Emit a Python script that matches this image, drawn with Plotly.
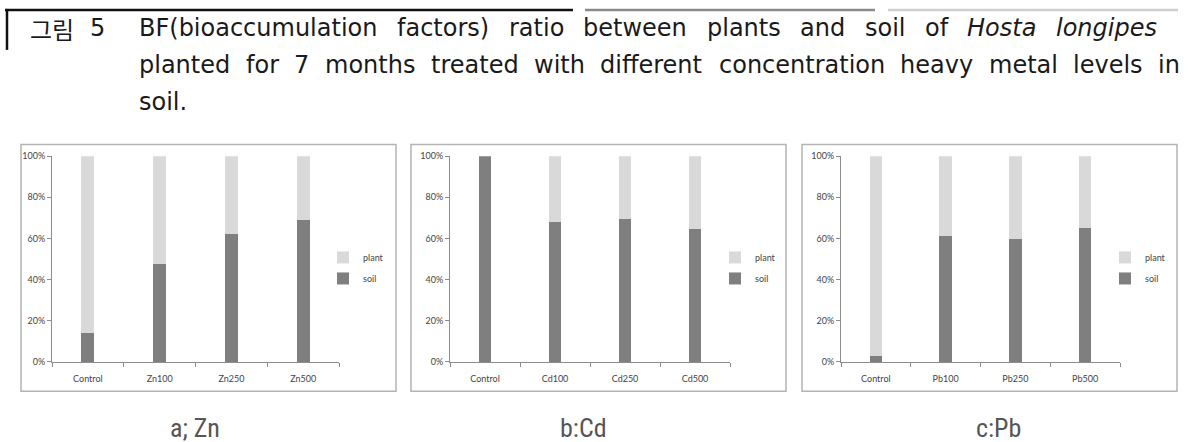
import plotly.graph_objects as go

W, H = 1188, 442

# ---------------- data ----------------
categories_zn = ["Control", "Zn100", "Zn250", "Zn500"]
categories_cd = ["Control", "Cd100", "Cd250", "Cd500"]
categories_pb = ["Control", "Pb100", "Pb250", "Pb500"]

soil_zn = [0.14, 0.478, 0.62, 0.688]
plant_zn = [0.86, 0.522, 0.38, 0.312]
soil_cd = [1.0, 0.681, 0.696, 0.645]
plant_cd = [0.0, 0.319, 0.304, 0.355]
soil_pb = [0.027, 0.614, 0.596, 0.653]
plant_pb = [0.973, 0.386, 0.404, 0.347]

series_names = ["soil", "plant"]
panel_captions = ["a; Zn", "b:Cd", "c:Pb"]
y_ticks = [0, 0.2, 0.4, 0.6, 0.8, 1.0]

title_line1 = "BF(bioaccumulation factors) ratio between plants and soil of Hosta longipes"
title_line2 = "planted for 7 months treated with different concentration heavy metal levels in"
title_line3 = "soil."
italic_words = ["Hosta", "longipes"]

# ---------------- helpers ----------------
def px(x):
    return x / W

def py(y):
    return 1 - y / H

# DejaVu Sans advance widths (em) for justified title layout
DV = {
    'a': .613, 'b': .635, 'c': .550, 'd': .635, 'e': .615, 'f': .352, 'g': .635, 'h': .634,
    'i': .278, 'l': .278, 'm': .974, 'n': .634, 'o': .612, 'p': .635, 'r': .411, 's': .521,
    't': .392, 'u': .634, 'v': .592, 'w': .818, 'y': .592, 'B': .686, 'F': .575, 'H': .752,
    '(': .390, ')': .390, '.': .318, '7': .636, '5': .636,
}

def word_w(w, size):
    return sum(DV.get(ch, .6) for ch in w) * size

def justify(line, x0, x1, size):
    words = line.split(" ")
    total = sum(word_w(w, size) for w in words)
    gap = (x1 - x0 - total) / max(len(words) - 1, 1)
    out, x = [], x0
    for w in words:
        out.append((w, x))
        x += word_w(w, size) + gap
    return out

SOIL_COLOR = "#7f7f7f"
PLANT_COLOR = "#d9d9d9"
AXIS_COLOR = "#8c8c8c"
TICK_FONT = dict(family="Lato, Liberation Sans, sans-serif", size=9, color="#444444")

panels = [
    dict(cats=categories_zn, soil=soil_zn, plant=plant_zn, x0=52, x1=339, box=(21, 396), leg=323),
    dict(cats=categories_cd, soil=soil_cd, plant=plant_cd, x0=450, x1=730, box=(411, 786), leg=715),
    dict(cats=categories_pb, soil=soil_pb, plant=plant_pb, x0=841, x1=1120, box=(802, 1177), leg=1105),
]
PLOT_TOP, PLOT_BOTTOM = 154, 365
BOX_TOP, BOX_BOTTOM = 142, 395

fig = go.Figure()
layout = dict(
    width=W, height=H,
    margin=dict(l=0, r=0, t=0, b=0),
    paper_bgcolor="white", plot_bgcolor="white",
    barmode="stack",
    showlegend=True,
)

shapes = []
annotations = []

for i, p in enumerate(panels):
    n = "" if i == 0 else str(i + 1)
    xa, ya = "x" + n, "y" + n
    lg = "legend" + n
    fig.add_trace(go.Bar(
        x=p["cats"], y=p["soil"], name=series_names[0], marker_color=SOIL_COLOR,
        marker_line_width=0, width=0.18, xaxis=xa, yaxis=ya, legend=lg,
        legendrank=2, legendgroup="soil" + n,
    ))
    fig.add_trace(go.Bar(
        x=p["cats"], y=p["plant"], name=series_names[1], marker_color=PLANT_COLOR,
        marker_line_width=0, width=0.18, xaxis=xa, yaxis=ya, legend=lg,
        legendrank=1, legendgroup="plant" + n,
    ))
    layout["xaxis" + n] = dict(
        domain=[px(p["x0"]), px(p["x1"])], anchor=ya,
        type="category", showline=True, linecolor=AXIS_COLOR, linewidth=1,
        ticks="outside", tickson="boundaries", ticklen=4, tickcolor=AXIS_COLOR,
        showgrid=False, zeroline=False, tickfont=TICK_FONT, ticklabelstandoff=8,
    )
    layout["yaxis" + n] = dict(
        domain=[py(PLOT_BOTTOM), py(PLOT_TOP)], anchor=xa,
        range=[0, 1], tickvals=y_ticks, tickformat=".0%",
        showline=True, linecolor=AXIS_COLOR, linewidth=1,
        ticks="outside", ticklen=4, tickcolor=AXIS_COLOR,
        showgrid=False, zeroline=False, tickfont=TICK_FONT,
    )
    layout[lg] = dict(
        x=px(p["leg"]), y=py(243), xanchor="left", yanchor="top",
        bgcolor="rgba(0,0,0,0)",
        font=dict(family="Lato, Liberation Sans, sans-serif", size=9, color="#444444"),
        tracegroupgap=2, itemwidth=30,
    )
    bx0, bx1 = p["box"]
    shapes.append(dict(type="rect", xref="paper", yref="paper",
                       x0=px(bx0), x1=px(bx1), y0=py(BOX_BOTTOM), y1=py(BOX_TOP),
                       line=dict(color="#b4b4b4", width=1.5), layer="below"))
    annotations.append(dict(
        text=panel_captions[i], xref="paper", yref="paper",
        x=px([195, 583, 998][i]), y=py(433), xanchor="center", yanchor="middle",
        showarrow=False,
        font=dict(family="Liberation Sans Narrow, Roboto Condensed, Arial Narrow, sans-serif",
                  size=26, color="#555555"),
    ))

# ---------------- title block ----------------
shapes += [
    dict(type="line", xref="paper", yref="paper", x0=px(5), x1=px(573), y0=py(4), y1=py(4),
         line=dict(color="#111111", width=2.5)),
    dict(type="line", xref="paper", yref="paper", x0=px(585), x1=px(875), y0=py(4), y1=py(4),
         line=dict(color="#8a8a8a", width=2.5)),
    dict(type="line", xref="paper", yref="paper", x0=px(888), x1=px(1178), y0=py(4), y1=py(4),
         line=dict(color="#cfcfcf", width=2.5)),
    dict(type="line", xref="paper", yref="paper", x0=px(7), x1=px(7), y0=py(3), y1=py(45),
         line=dict(color="#111111", width=2.5)),
]

TSIZE = 24
TITLE_FONT = "DejaVu Sans, Noto Sans CJK KR, sans-serif"
title_rows = [
    (23, [("그림", 28), ("5", 88)] + justify(title_line1, 137, 1155, TSIZE)),
    (61, justify(title_line2, 137, 1178, TSIZE)),
    (98, [(title_line3, 137)]),
]
for yc, words in title_rows:
    for w, x in words:
        annotations.append(dict(
            text=w, xref="paper", yref="paper", x=px(x), y=py(yc),
            xanchor="left", yanchor="middle", showarrow=False,
            font=dict(family="Noto Sans CJK KR, sans-serif" if w == "그림" else TITLE_FONT,
                      size=TSIZE, color="#1a1a1a",
                      style="italic" if w in italic_words else "normal"),
        ))

layout["shapes"] = shapes
layout["annotations"] = annotations
fig.update_layout(**layout)

fig.write_html("out.html")
